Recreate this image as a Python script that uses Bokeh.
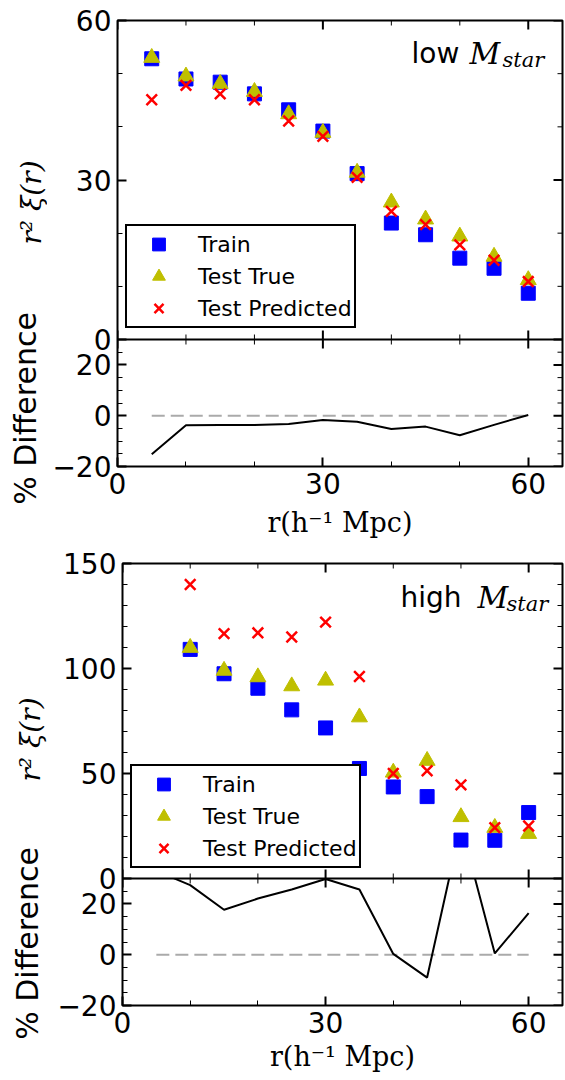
import math
from bokeh.plotting import figure
from bokeh.models import (Range1d, LinearAxis, FixedTicker, CustomJSTickFormatter,
                          Span, Label, Legend, LegendItem)
from bokeh.core.properties import value
from bokeh.layouts import column, row
from bokeh.embed import file_html
from bokeh.resources import INLINE

# ---------------- data ----------------
r_vals = [5, 10, 15, 20, 25, 30, 35, 40, 45, 50, 55, 60]

low_train = [52.8, 49.0, 48.4, 46.2, 43.2, 39.2, 31.2, 21.9, 19.7, 15.3, 13.4, 8.7]
low_true = [53.0, 49.5, 48.1, 46.6, 42.4, 38.9, 31.4, 25.8, 22.6, 19.4, 15.6, 11.2]
low_pred = [45.1, 47.8, 46.2, 45.1, 41.1, 38.2, 30.5, 24.1, 21.6, 17.8, 14.9, 10.9]
low_diff = [-15.2, -3.8, -3.7, -3.7, -3.3, -1.7, -2.4, -5.2, -4.3, -7.7, -3.6, 0.3]

high_train = [175.0, 109.1, 97.5, 90.6, 80.3, 71.7, 52.4, 43.6, 39.0, 18.3, 18.2, 31.4]
high_true = [170.0, 109.9, 99.0, 95.9, 91.6, 94.3, 76.8, 50.5, 56.1, 29.3, 24.2, 21.3]
high_pred = [226.0, 140.0, 116.6, 117.0, 115.0, 122.1, 96.2, 50.0, 51.3, 44.6, 24.2, 25.0]
high_diff = [33.0, 27.4, 17.7, 22.1, 25.7, 29.8, 25.7, 0.3, -9.0, 51.0, 0.5, 16.4]

x_major = [0, 30, 60]
x_minor = [10, 20, 40, 50]
low_major = [0, 30, 60]
low_minor = [10, 20, 40, 50]
high_major = [0, 50, 100, 150]
high_minor = [10, 20, 30, 40, 60, 70, 80, 90, 110, 120, 130, 140]
diff_major = [-20, 0, 20]
diff_minor = [-15, -10, -5, 5, 10, 15, 25]
series_names = ["Train", "Test True", "Test Predicted"]
x_label = "r(h\u207b\u00b9 Mpc)"
y_label = "r\u00b2 \u03be(r)"
diff_label = "% Difference"

BLUE, OLIVE, RED = "#0000ff", "#bfbf00", "#ff0000"
SANS = "DejaVu Sans"
SERIF = "DejaVu Serif"
LABEL_COL_W = 47
X_MAX = 65
MAJ_LEN, MIN_LEN = 9, 5


def style_axis(ax):
    ax.axis_line_color = None
    ax.major_tick_in = MAJ_LEN
    ax.major_tick_out = 0
    ax.minor_tick_in = MIN_LEN
    ax.minor_tick_out = 0
    ax.major_tick_line_width = 2
    ax.minor_tick_line_width = 1
    ax.major_tick_line_color = "black"
    ax.minor_tick_line_color = "black"
    ax.major_label_text_font = SANS
    ax.major_label_text_color = "black"
    ax.major_label_text_font_size = "28px"
    ax.major_label_standoff = 6


def tick_marks(p, xs, ys, angle, length, width, y_range_name="default"):
    p.scatter(xs, ys, marker="dash", angle=angle, size=2 * length,
              line_color="black", line_width=width, y_range_name=y_range_name)


def make_half(train, true, pred, diff, main_top, main_major, main_minor,
              word, frame_left, top_border, main_px, diff_px, bottom_border,
              xlab_standoff, legend_y, title_pos, ylab_pos, dlab_pos):
    height = top_border + main_px + diff_px + bottom_border
    m1 = main_top
    m0 = main_top - main_top * (main_px + diff_px) / main_px
    d0 = -20.0
    d1 = -20.0 + 50.0 * (main_px + diff_px) / diff_px

    left = frame_left - LABEL_COL_W
    p = figure(width=565 - LABEL_COL_W, height=height, output_backend="svg",
               toolbar_location=None, x_axis_location=None, y_axis_location=None,
               x_range=Range1d(0, X_MAX), y_range=Range1d(m0, m1),
               min_border_left=left, min_border_right=3,
               min_border_top=top_border, min_border_bottom=bottom_border,
               background_fill_color="white", border_fill_color="white",
               outline_line_color="black", outline_line_width=2)
    p.extra_y_ranges = {"diff": Range1d(d0, d1)}
    p.xgrid.grid_line_color = None
    p.ygrid.grid_line_color = None

    def to_main(d):
        return m0 + (d - d0) * (m1 - m0) / (d1 - d0)

    yt = FixedTicker(ticks=list(main_major) + [to_main(d) for d in diff_major],
                     minor_ticks=list(main_minor) + [to_main(d) for d in diff_minor])
    xt = FixedTicker(ticks=x_major, minor_ticks=x_minor)
    fmt = CustomJSTickFormatter(args=dict(m0=m0, m1=m1, d0=d0, d1=d1), code="""
        let v = tick;
        if (tick < -1e-6) { v = d0 + (tick - m0) * (d1 - d0) / (m1 - m0); }
        const s = String(Math.round(v));
        return s.replace("-", "\\u2212");
    """)

    ax_b = LinearAxis(ticker=xt, axis_label=x_label)
    style_axis(ax_b)
    ax_b.axis_label_text_font = SERIF
    ax_b.axis_label_text_font_style = "normal"
    ax_b.axis_label_text_font_size = "27px"
    ax_b.axis_label_text_color = "black"
    ax_b.axis_label_standoff = xlab_standoff
    p.add_layout(ax_b, "below")
    ax_l = LinearAxis(ticker=yt, formatter=fmt)
    style_axis(ax_l)
    p.add_layout(ax_l, "left")

    # difference panel
    p.line([r_vals[0], r_vals[-1]], [0, 0], y_range_name="diff",
           line_color="#aaaaaa", line_width=2, line_dash="13 6")
    p.line(r_vals, diff, y_range_name="diff", line_color="black", line_width=2)
    # hide the part of the difference curve that leaves its panel
    p.quad(left=min(r_vals) - 2, right=max(r_vals) + 2, bottom=30,
           top=max(diff) + 10, y_range_name="diff",
           fill_color="white", line_color=None)

    # inward ticks on the top, right and on the panel boundary
    for ticks, ln, w in ((x_major, MAJ_LEN, 2), (x_minor, MIN_LEN, 1)):
        tick_marks(p, ticks, [m1] * len(ticks), math.pi / 2, ln, w)
        tick_marks(p, ticks, [0] * len(ticks), math.pi / 2, ln, w)
    for ticks, ln, w in ((main_major, MAJ_LEN, 2), (main_minor, MIN_LEN, 1)):
        tick_marks(p, [X_MAX] * len(ticks), ticks, 0, ln, w)
    for ticks, ln, w in ((diff_major, MAJ_LEN, 2), (diff_minor, MIN_LEN, 1)):
        tick_marks(p, [X_MAX] * len(ticks), ticks, 0, ln, w, "diff")
    p.add_layout(Span(location=0, dimension="width", line_color="black", line_width=2))

    # main panel
    sq = p.scatter(r_vals, train, marker="square", size=14, fill_color=BLUE,
                   line_color=BLUE, line_width=1)
    tr = p.scatter(r_vals, true, marker="triangle", size=16, fill_color=OLIVE,
                   line_color=OLIVE, line_width=1)
    xs = p.scatter(r_vals, pred, marker="x", size=15, line_color=RED, line_width=2.5)

    legend = Legend(items=[LegendItem(label=series_names[0], renderers=[sq]),
                           LegendItem(label=series_names[1], renderers=[tr]),
                           LegendItem(label=series_names[2], renderers=[xs])],
                    location=(8, legend_y), margin=0, padding=2, spacing=0,
                    glyph_width=59, glyph_height=32, label_height=32,
                    label_standoff=10, label_text_font=SANS,
                    label_text_font_size="22px", label_text_color="black",
                    border_line_color="black", border_line_width=2, border_line_alpha=1.0,
                    background_fill_color="white", background_fill_alpha=1.0)
    p.add_layout(legend)

    tx, ty, mx, sx, sy = title_pos
    p.add_layout(Label(x=tx, y=ty, x_units="screen", y_units="screen", text=word,
                       text_font=SANS, text_font_size="28px", text_color="black",
                       text_baseline="alphabetic", text_align="left"))
    p.add_layout(Label(x=mx, y=ty, x_units="screen", y_units="screen", text="M",
                       text_font=SERIF, text_font_style="italic", text_font_size="30px",
                       text_color="black", text_baseline="alphabetic", text_align="left"))
    p.add_layout(Label(x=sx, y=sy, x_units="screen", y_units="screen", text="star",
                       text_font=SERIF, text_font_style="italic", text_font_size="21px",
                       text_color="black", text_baseline="alphabetic", text_align="left"))

    # column on the left holding the rotated axis titles (data units = pixels)
    lc = figure(frame_width=LABEL_COL_W, frame_height=height, output_backend="svg",
                toolbar_location=None, x_axis_location=None, y_axis_location=None,
                x_range=Range1d(0, LABEL_COL_W), y_range=Range1d(0, height),
                min_border=0, outline_line_color=None,
                background_fill_color="white", border_fill_color="white")
    lc.xgrid.grid_line_color = None
    lc.ygrid.grid_line_color = None
    lc.text(x=[ylab_pos[0]], y=[height - ylab_pos[1]], text=[y_label], angle=math.pi / 2,
            text_font=value(SERIF), text_font_style="italic", text_font_size=value("28px"),
            text_color="black", text_align="center", text_baseline="middle")
    lc.text(x=[dlab_pos[0]], y=[height - dlab_pos[1]], text=[diff_label], angle=math.pi / 2,
            text_font=value(SANS), text_font_size=value("30px"),
            text_color="black", text_align="center", text_baseline="middle")
    return row(lc, p, spacing=0)


# top half: 20 + 319 + 127 + 80 = 546 px; bottom half: 17 + 315 + 127 + 75 = 534 px
top = make_half(low_train, low_true, low_pred, low_diff, 60, low_major, low_minor,
                "low", frame_left=117, top_border=20, main_px=319, diff_px=127,
                bottom_border=80, xlab_standoff=10, legend_y=138,
                title_pos=(294, 413, 352, 385, 407),
                ylab_pos=(31, 182), dlab_pos=(25, 388))
bottom = make_half(high_train, high_true, high_pred, high_diff, 150, high_major, high_minor,
                   "high", frame_left=122, top_border=17, main_px=315, diff_px=127,
                   bottom_border=75, xlab_standoff=5, legend_y=137,
                   title_pos=(278, 408, 355, 384, 402),
                   ylab_pos=(30, 176), dlab_pos=(27, 380))

layout = column(top, bottom, spacing=0)
with open("out.html", "w", encoding="utf-8") as f:
    f.write(file_html(layout, INLINE))
